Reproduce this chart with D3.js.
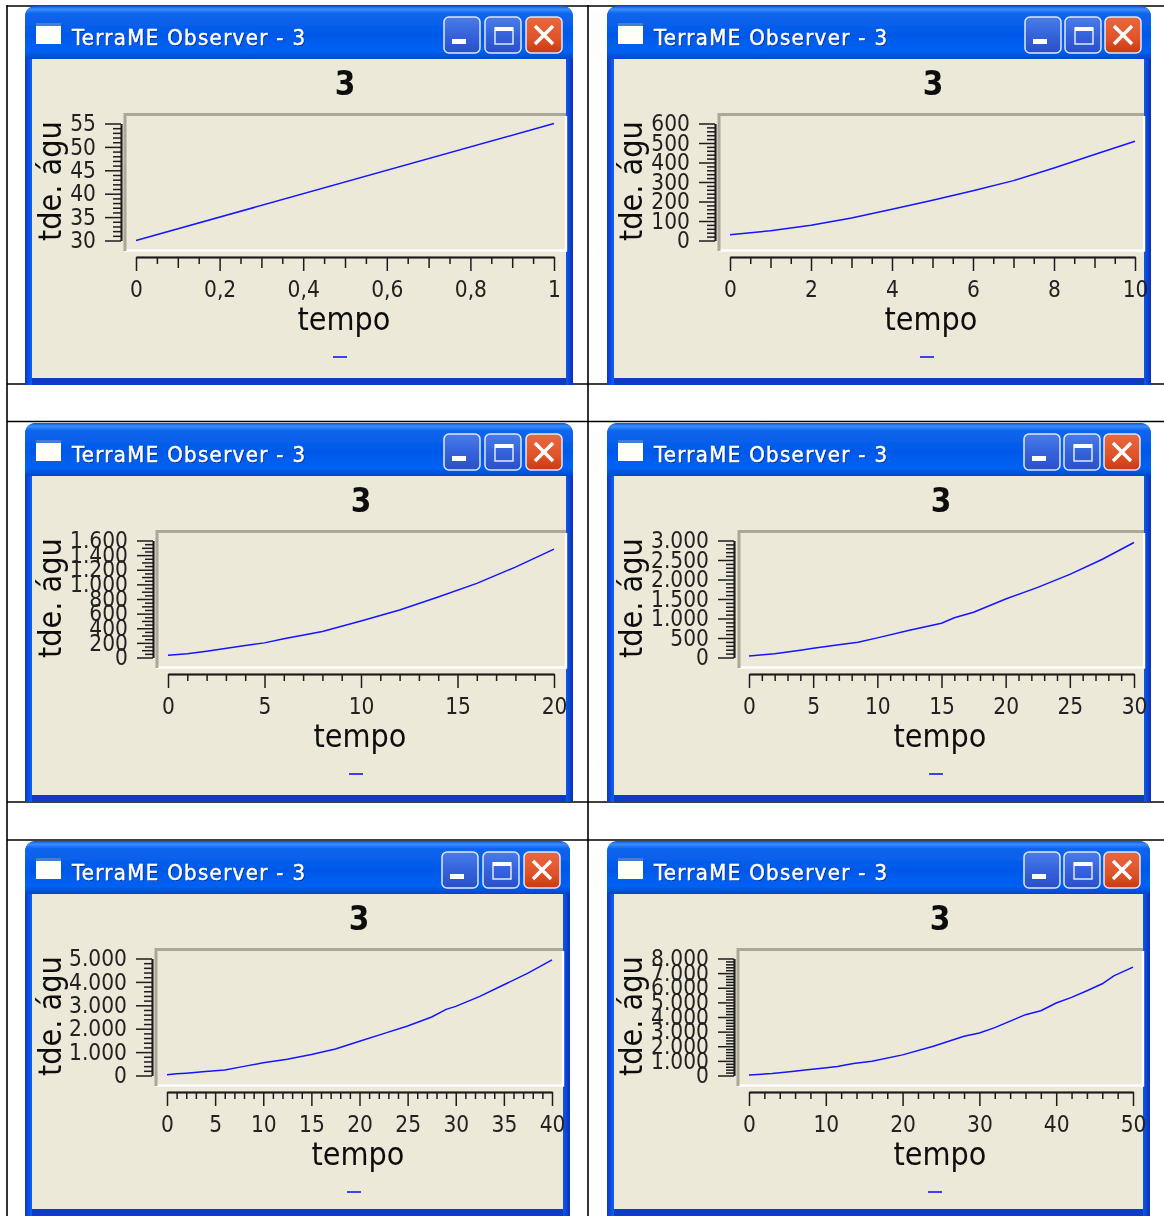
<!DOCTYPE html>
<html>
<head>
<meta charset="utf-8">
<script src="https://cdn.jsdelivr.net/npm/d3@7"></script>
<style>
  html, body { margin: 0; padding: 0; background: #fff; overflow: hidden; }
  svg { display: block; }
  text { font-family: "DejaVu Sans", sans-serif; font-stretch: condensed; fill: #111; }
  .tick text { font-size: 22.5px; fill: #222; }
  .axis path, .axis line { stroke: #1c1c1c; stroke-width: 1.5; }
</style>
</head>
<body>
<svg id="page" width="1164" height="1216"></svg>
<script>
// values, one time/water pair per observer window
var tempo1 = [0, 1],
    agua1 = [30, 55],
    tempo2 = [0, 1, 2, 3, 4, 5, 6, 7, 8, 9, 10],
    agua2 = [30, 50, 78, 115, 160, 206, 255, 307, 372, 441, 509],
    tempo3 = [0, 1, 2, 4, 5, 6, 8, 10, 12, 14, 16, 18, 20],
    agua3 = [30, 52, 86, 164, 200, 255, 355, 500, 650, 827, 1014, 1236, 1482],
    tempo4 = [0, 2, 4, 5, 7, 8.5, 10, 12.5, 15, 16, 17.5, 20, 22.5, 25, 27.5, 30],
    agua4 = [40, 94, 187, 239, 324, 392, 503, 699, 878, 1020, 1160, 1500, 1798, 2131, 2514, 2949],
    tempo5 = [0, 1, 2, 4, 6, 8, 10, 12.5, 15, 17.5, 20, 22.5, 25, 27.5, 29, 30, 32.5, 35, 37.5, 40],
    agua5 = [30, 71, 100, 170, 240, 390, 540, 696, 895, 1136, 1463, 1790, 2116, 2500, 2827, 2955, 3381, 3878, 4375, 4943],
    tempo6 = [0, 3, 5.6, 7.6, 9.5, 11.5, 13.6, 16, 20, 24, 28, 30, 32, 36, 38, 40, 42, 44, 46, 47.5, 50],
    agua6 = [30, 136, 273, 386, 500, 614, 818, 977, 1409, 2000, 2682, 2909, 3273, 4159, 4432, 4955, 5341, 5795, 6273, 6818, 7409];

var xLabels1 = ["0", "0,2", "0,4", "0,6", "0,8", "1"],
    xTicks1 = [0, 0.2, 0.4, 0.6, 0.8, 1],
    xTicks2 = [0, 2, 4, 6, 8, 10],
    xTicks3 = [0, 5, 10, 15, 20],
    xTicks4 = [0, 5, 10, 15, 20, 25, 30],
    xTicks5 = [0, 5, 10, 15, 20, 25, 30, 35, 40],
    xTicks6 = [0, 10, 20, 30, 40, 50];

var yTicks1 = [30, 35, 40, 45, 50, 55],
    yTicks2 = [0, 100, 200, 300, 400, 500, 600],
    yTicks3 = [0, 200, 400, 600, 800, 1000, 1200, 1400, 1600],
    yTicks4 = [0, 500, 1000, 1500, 2000, 2500, 3000],
    yTicks5 = [0, 1000, 2000, 3000, 4000, 5000],
    yTicks6 = [0, 1000, 2000, 3000, 4000, 5000, 6000, 7000, 8000];

var windowTitle = "TerraME Observer - 3",
    plotTitle = "3",
    xTitle = "tempo",
    yTitle = "tde. águ";

var observers = [
  { t: tempo1, v: agua1, xt: xTicks1, xl: xLabels1, yt: yTicks1, xMinor: 0.05, yMinor: 1,
    left: 25, right: 573, top: 6, bottom: 385, frame: 125, x0: 136, x1: 554, yAxis: 121, title: 345, tempo: 344, dash: 340, btn: 444, btnStep: 41 },
  { t: tempo2, v: agua2, xt: xTicks2, yt: yTicks2, xMinor: 0.5, yMinor: 20,
    left: 607, right: 1151, top: 6, bottom: 385, frame: 719, x0: 730, x1: 1135, yAxis: 715, title: 933, tempo: 931, dash: 927, btn: 1025, btnStep: 40 },
  { t: tempo3, v: agua3, xt: xTicks3, yt: yTicks3, xMinor: 1, yMinor: 50,
    left: 25, right: 573, top: 423, bottom: 802, frame: 157, x0: 168, x1: 554, yAxis: 153, title: 361, tempo: 360, dash: 356, btn: 444, btnStep: 41 },
  { t: tempo4, v: agua4, xt: xTicks4, yt: yTicks4, xMinor: 1, yMinor: 100,
    left: 607, right: 1151, top: 423, bottom: 802, frame: 739, x0: 749, x1: 1134, yAxis: 734, title: 941, tempo: 940, dash: 936, btn: 1024, btnStep: 40 },
  { t: tempo5, v: agua5, xt: xTicks5, yt: yTicks5, xMinor: 1, yMinor: 200,
    left: 25, right: 570, top: 841, bottom: 1216, frame: 156, x0: 167, x1: 552, yAxis: 152, title: 359, tempo: 358, dash: 354, btn: 442, btnStep: 41 },
  { t: tempo6, v: agua6, xt: xTicks6, yt: yTicks6, xMinor: 2, yMinor: 200,
    left: 607, right: 1150, top: 841, bottom: 1216, frame: 738, x0: 749, x1: 1133, yAxis: 734, title: 940, tempo: 940, dash: 935, btn: 1024, btnStep: 40 }
];

var svg = d3.select("#page");
var defs = svg.append("defs");

function gradient(id, stops, horizontal) {
  var g = defs.append("linearGradient").attr("id", id)
      .attr("x1", 0).attr("x2", horizontal ? 1 : 0).attr("y1", 0).attr("y2", horizontal ? 0 : 1);
  stops.forEach(function(s) {
    g.append("stop").attr("offset", s[0]).attr("stop-color", s[1]);
  });
}
gradient("bar", [[0, "#0a54d8"], [0.06, "#3a8ef8"], [0.14, "#0f66ee"], [0.55, "#0058e8"], [0.85, "#0062f4"], [1, "#0048c8"]]);
gradient("sideL", [[0, "#0836c8"], [1, "#0a62f4"]], true);
gradient("sideR", [[0, "#0a58ec"], [1, "#0830b8"]], true);
gradient("blueBtn", [[0, "#4a7cea"], [0.5, "#3563dc"], [1, "#2a50c8"]]);
gradient("redBtn", [[0, "#e8693f"], [0.6, "#e0532a"], [1, "#c93a10"]]);
defs.append("filter").attr("id", "soft").attr("x", 0).attr("y", 0).attr("width", 1).attr("height", 1)
  .append("feGaussianBlur").attr("stdDeviation", 0.4);

// table rules behind the windows
var hRules = [6, 384, 421.5, 802, 840],
    vRules = [7, 588];
svg.selectAll(".hrule").data(hRules).enter().append("line")
    .attr("x1", 7).attr("x2", 1164)
    .attr("y1", function(d) { return d; }).attr("y2", function(d) { return d; })
    .attr("stroke", "#000").attr("stroke-width", 1.6);
svg.selectAll(".vrule").data(vRules).enter().append("line")
    .attr("y1", 5).attr("y2", 1216)
    .attr("x1", function(d) { return d; }).attr("x2", function(d) { return d; })
    .attr("stroke", "#000").attr("stroke-width", 1.6);

function drawChrome(g, o) {
  var w = o.right - o.left, h = o.bottom - o.top;

  g.append("path")
    .attr("d", "M0," + h + "V12Q0,0 12,0H" + (w - 12) + "Q" + w + ",0 " + w + ",12V" + h + "Z")
    .attr("fill", "#0a3cc4");
  g.append("rect").attr("x", 0).attr("y", 40).attr("width", 7).attr("height", h - 40).attr("fill", "url(#sideL)");
  g.append("rect").attr("x", w - 7).attr("y", 40).attr("width", 7).attr("height", h - 40).attr("fill", "url(#sideR)");
  g.append("path")
    .attr("d", "M0,53V12Q0,0 12,0H" + (w - 12) + "Q" + w + ",0 " + w + ",12V53Z")
    .attr("fill", "url(#bar)");
  g.append("rect").attr("x", 7).attr("y", 53).attr("width", w - 14).attr("height", h - 60)
    .attr("fill", "#ece9d8");

  // little window icon
  g.append("rect").attr("x", 11).attr("y", 19).attr("width", 25).attr("height", 19).attr("fill", "#fffff8");
  g.append("rect").attr("x", 11).attr("y", 17).attr("width", 25).attr("height", 3).attr("fill", "#3f7fd8");

  var title = g.append("g");
  title.append("text").attr("x", 48).attr("y", 40).text(windowTitle)
    .attr("font-size", 22).attr("textLength", 233).style("fill", "#0a2a80");
  title.append("text").attr("x", 47).attr("y", 39).text(windowTitle)
    .attr("font-size", 22).attr("textLength", 233)
    .style("fill", "#fff").style("stroke", "#fff").style("stroke-width", 0.5);

  var bx = o.btn - o.left;
  [0, 1, 2].forEach(function(i) {
    g.append("rect").attr("x", bx + i * o.btnStep).attr("y", 11).attr("width", 36).attr("height", 36).attr("rx", 5)
      .attr("fill", i == 2 ? "url(#redBtn)" : "url(#blueBtn)")
      .attr("stroke", "#dfe8fb").attr("stroke-width", 1.5);
  });
  g.append("rect").attr("x", bx + 8).attr("y", 33).attr("width", 14).attr("height", 5).attr("fill", "#fff");
  var mx = bx + o.btnStep;
  g.append("rect").attr("x", mx + 10).attr("y", 22).attr("width", 18).attr("height", 16)
    .attr("fill", "none").attr("stroke", "#dfe8fb").attr("stroke-width", 1.5);
  g.append("rect").attr("x", mx + 10).attr("y", 21).attr("width", 18).attr("height", 4).attr("fill", "#fff");
  var cx = bx + 2 * o.btnStep + 18;
  g.append("path")
    .attr("d", "M" + (cx - 9) + ",20L" + (cx + 9) + ",38M" + (cx + 9) + ",20L" + (cx - 9) + ",38")
    .attr("stroke", "#fff").attr("stroke-width", 3.4).attr("fill", "none");
}

function drawPlot(g, o) {
  var w = o.right - o.left;
  var fx = o.frame - o.left, rx = w - 7;

  // sunken canvas frame
  g.append("path").attr("d", "M" + fx + ",244.5H" + rx + "V110")
    .attr("fill", "none").attr("stroke", "#fff").attr("stroke-width", 2.4);
  g.append("path").attr("d", "M" + fx + ",245V108.5H" + rx)
    .attr("fill", "none").attr("stroke", "#aca899").attr("stroke-width", 3);

  var x = d3.scaleLinear().domain(d3.extent(o.xt)).range([o.x0 - o.left, o.x1 - o.left]);
  var y = d3.scaleLinear().domain(d3.extent(o.yt)).range([234.5, 117.5]);

  var xStep = o.xt[1] - o.xt[0], yStep = o.yt[1] - o.yt[0];
  var xDiv = Math.round(xStep / o.xMinor), yDiv = Math.round(yStep / o.yMinor);

  function minorValues(ticks, step, div, wantMid) {
    var out = [];
    for (var i = 0; i < ticks.length - 1; i++) {
      for (var j = 1; j < div; j++) {
        var isMid = div % 2 == 0 && j == div / 2;
        if (isMid == wantMid) out.push(ticks[i] + j * step / div);
      }
    }
    return out;
  }

  var axisX = g.append("g").attr("class", "axis").attr("transform", "translate(0,251)");
  axisX.append("g").call(d3.axisBottom(x).tickValues(minorValues(o.xt, xStep, xDiv, false)).tickSize(7).tickSizeOuter(0).tickFormat(""));
  axisX.append("g").call(d3.axisBottom(x).tickValues(minorValues(o.xt, xStep, xDiv, true)).tickSize(11).tickSizeOuter(0).tickFormat(""));
  axisX.append("g").call(d3.axisBottom(x).tickValues(o.xt).tickSize(14).tickSizeOuter(0).tickPadding(10)
    .tickFormat(function(d, i) { return o.xl ? o.xl[i] : String(d); }));

  var axisY = g.append("g").attr("class", "axis").attr("transform", "translate(" + (o.yAxis - o.left) + ",0)");
  axisY.append("g").call(d3.axisLeft(y).tickValues(minorValues(o.yt, yStep, yDiv, false)).tickSize(8).tickSizeOuter(0).tickFormat(""));
  axisY.append("g").call(d3.axisLeft(y).tickValues(minorValues(o.yt, yStep, yDiv, true)).tickSize(11).tickSizeOuter(0).tickFormat(""));
  axisY.append("g").call(d3.axisLeft(y).tickValues(o.yt).tickSize(16).tickSizeOuter(0).tickPadding(9)
    .tickFormat(function(d) { return String(d).replace(/\B(?=(\d{3})+$)/g, "."); }));

  var line = d3.line()
    .x(function(d, i) { return x(o.t[i]); })
    .y(function(d) { return y(d); });
  g.append("path").datum(o.v).attr("d", line)
    .attr("fill", "none").attr("stroke", "#1414ff").attr("stroke-width", 1.5);

  g.append("text").attr("x", o.title - o.left).attr("y", 89).attr("text-anchor", "middle")
    .attr("font-size", 33).attr("font-weight", "bold").text(plotTitle);
  g.append("text").attr("x", o.tempo - o.left).attr("y", 324).attr("text-anchor", "middle")
    .attr("font-size", 32).text(xTitle);
  var ylx = (o.left < 500 ? 61 : 642) - o.left;
  g.append("text").attr("transform", "translate(" + ylx + ",235) rotate(-90)")
    .attr("font-size", 32).text(yTitle);

  g.append("line").attr("x1", o.dash - o.left - 7).attr("x2", o.dash - o.left + 7)
    .attr("y1", 351).attr("y2", 351)
    .attr("stroke", "#1414ff").attr("stroke-width", 1.6);
}

var win = svg.selectAll(".window")
    .data(observers)
  .enter().append("g")
    .attr("class", "window")
    .attr("filter", "url(#soft)")
    .attr("transform", function(d) { return "translate(" + d.left + "," + d.top + ")"; });

win.each(function(d) {
  drawChrome(d3.select(this), d);
  drawPlot(d3.select(this), d);
});
</script>
</body>
</html>
